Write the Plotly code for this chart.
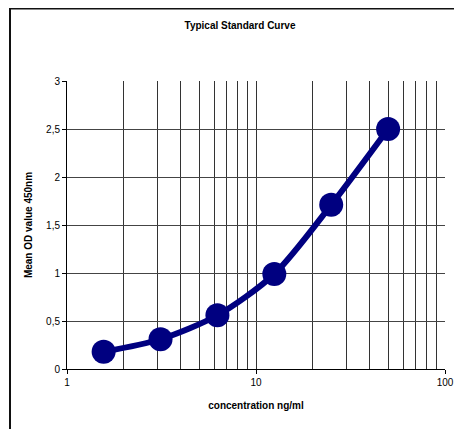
import plotly.graph_objects as go

concentration = [1.5625, 3.125, 6.25, 12.5, 25, 50]
mean_od = [0.18, 0.31, 0.56, 0.99, 1.71, 2.50]

x_ticks = [1, 10, 100]
x_minor = [2, 3, 4, 5, 6, 7, 8, 9, 20, 30, 40, 50, 60, 70, 80, 90]
x_grid_major = [10]
y_ticks = [0, 0.5, 1, 1.5, 2, 2.5, 3]
y_grid = [0.5, 1, 1.5, 2, 2.5]

# page is offset by the 8px body margin; work in page pixels, convert to figure
OFF = 8
W, H = 462, 429
PL, PR, PT, PB = 67, 445, 81, 369          # plot area in page pixels
L, T = PL - OFF, PT - OFF
pw, ph = PR - PL, PB - PT
R = W - L - pw
B = H - T - ph

def px(x):
    return (x - PL) / pw

def py(y):
    return (PB - y) / ph

navy = "#000080"
font = "Liberation Sans, Arial, sans-serif"
grid = "#333"

fig = go.Figure()
# invisible helper trace so the overlay grid axes get drawn
fig.add_trace(go.Scatter(
    x=concentration, y=mean_od, xaxis="x2", yaxis="y2", mode="markers",
    marker=dict(opacity=0), hoverinfo="skip", showlegend=False,
))
fig.add_trace(go.Scatter(
    x=concentration, y=mean_od, mode="lines+markers",
    line=dict(color=navy, width=6, shape="spline", smoothing=0.8),
    marker=dict(color=navy, size=24),
    showlegend=False,
))

fig.update_layout(
    width=W, height=H,
    margin=dict(l=L, r=R, t=T, b=B),
    paper_bgcolor="white", plot_bgcolor="white",
    separators=",.",
    font=dict(family=font, size=10, color="#000"),
    title=dict(text="<b>Typical Standard Curve</b>", x=px(240), xref="paper",
               y=1 - (25 - OFF) / H, yref="container", xanchor="center", yanchor="middle",
               font=dict(size=10, family=font, color="#000")),
    xaxis=dict(type="log", range=[0, 2], tickmode="array", tickvals=x_ticks,
               ticktext=[str(v) for v in x_ticks],
               showgrid=False,
               showline=True, linecolor="#000", linewidth=1,
               ticks="outside", ticklen=4, tickcolor="#000",
               minor=dict(tickmode="array", tickvals=x_minor, showgrid=True,
                          gridcolor=grid, gridwidth=1, ticks=""),
               zeroline=False,
               title=dict(text="<b>concentration ng/ml</b>", standoff=14,
                          font=dict(size=10, family=font))),
    xaxis2=dict(type="log", range=[0, 2], overlaying="x", anchor="y",
                tickmode="array", tickvals=x_grid_major, showticklabels=False,
                ticks="", showgrid=True, gridcolor=grid, gridwidth=1,
                showline=False, zeroline=False),
    yaxis=dict(range=[0, 3], tickmode="array", tickvals=y_ticks,
               ticktext=[("%g" % v).replace(".", ",") for v in y_ticks],
               showgrid=False,
               showline=True, linecolor="#000", linewidth=1,
               ticks="outside", ticklen=4, tickcolor="#000",
               zeroline=False,
               title=dict(text="<b>Mean OD value 450nm</b>", standoff=11,
                          font=dict(size=10, family=font))),
    yaxis2=dict(range=[0, 3], overlaying="y", anchor="x",
                tickmode="array", tickvals=y_grid, showticklabels=False,
                ticks="", showgrid=True, gridcolor="#444", gridwidth=1,
                showline=False, zeroline=False),
    shapes=[
        dict(type="line", xref="paper", yref="paper", x0=px(10), x1=px(W + 20),
             y0=py(OFF + 0.5), y1=py(OFF + 0.5), line=dict(color="#111", width=2)),
        dict(type="line", xref="paper", yref="paper", x0=px(10), x1=px(10),
             y0=py(OFF), y1=py(H + 20), line=dict(color="#111", width=2)),
    ],
)

fig.write_html("out.html")
